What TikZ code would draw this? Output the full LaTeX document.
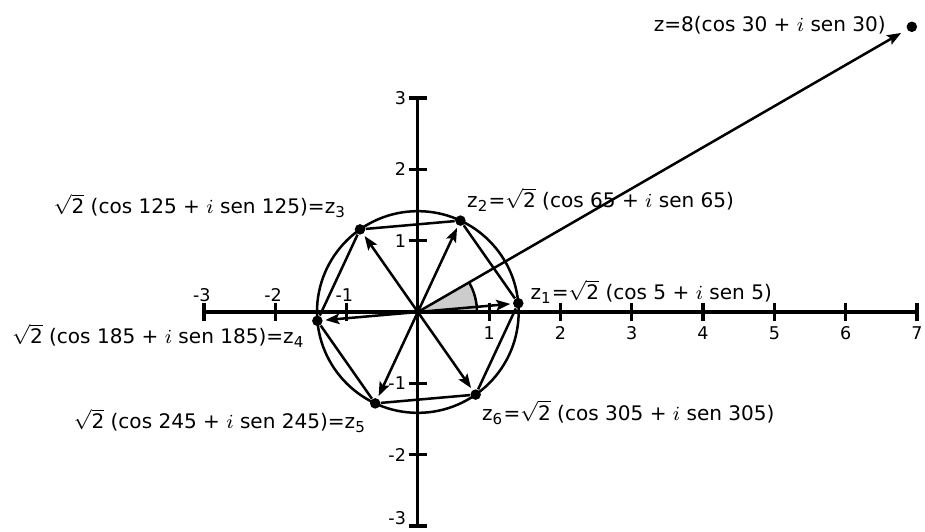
\documentclass[tikz,border=0pt]{standalone}
\usepackage{fontspec}
\setmainfont{DejaVu Sans}
\usetikzlibrary{arrows.meta}
\begin{document}
\begin{tikzpicture}[
  axisline/.style={line width=1.3pt},
  ln/.style={line width=1pt},
  vec/.style={line width=1pt,-{Stealth[length=5.6pt,width=4.2pt,inset=1.1pt]}},
  dot/.style={circle,fill=black,inner sep=0pt,minimum size=4.2pt},
  lab/.style={anchor=base west,inner sep=0pt,font=\fontsize{8}{9.6}\selectfont},
  tlab/.style={inner sep=0pt,font=\fontsize{7}{8.4}\selectfont},
]
\useasboundingbox (-5.86,-3.072) rectangle (7.113,4.376);
\coordinate (O) at (0,0);
% angle wedge
\fill[gray!40] (O) -- (0.83,0) arc[start angle=0,end angle=30,radius=0.83] -- cycle;
\draw[ln] (0.83,0) arc[start angle=0,end angle=30,radius=0.83];
% circle
\draw[ln] (O) circle[radius={sqrt(2)}];
% points
\node[dot] (z1) at (5:{sqrt(2)}) {};
\node[dot] (z2) at (65:{sqrt(2)}) {};
\node[dot] (z3) at (125:{sqrt(2)}) {};
\node[dot] (z4) at (185:{sqrt(2)}) {};
\node[dot] (z5) at (245:{sqrt(2)}) {};
\node[dot] (z6) at (305:{sqrt(2)}) {};
\node[dot] (zz) at (30:8) {};
% hexagon
\draw[ln] (z1) -- (z2) -- (z3) -- (z4) -- (z5) -- (z6) -- (z1);
% axes
\draw[axisline] (-3,0) -- (7,0);
\draw[axisline] (0,-3) -- (0,3);
\foreach \x in {-3,-2,-1,1,2,3,4,5,6,7} \draw[axisline] (\x,-0.12) -- (\x,0.12);
\foreach \y in {-3,-2,-1,1,2,3} \draw[axisline] (-0.13,\y) -- (0.13,\y);
\foreach \x in {-3,-2,-1} \node[tlab] at (\x-0.03,0.24) {\x};
\foreach \x in {1,...,7} \node[tlab] at (\x,-0.30) {\x};
\foreach \y in {-2,-1,1,2,3} \node[tlab,anchor=east] at (-0.16,\y) {\y};
\node[tlab,anchor=east] at (-0.16,-2.89) {-3};
% vectors
\foreach \k in {1,...,6} \draw[vec,shorten >=0.9pt] (O) -- (z\k);
\draw[vec,shorten >=2.6pt] (O) -- (zz);
% labels
\node[lab] (lz) at (3.303,3.931) {z=8(cos 30 + $i$ sen 30)};
\node[lab] (l1) at (1.574,0.178) {z\textsubscript{1}=$\sqrt{\mbox{2}}$ (cos 5 + $i$ sen 5)};
\node[lab] (l2) at (0.686,1.468) {z\textsubscript{2}=$\sqrt{\mbox{2}}$ (cos 65 + $i$ sen 65)};
\node[lab] (l3) at (-5.112,1.384) {$\sqrt{\mbox{2}}$ (cos 125 + $i$ sen 125)=z\textsubscript{3}};
\node[lab] (l4) at (-5.695,-0.439) {$\sqrt{\mbox{2}}$ (cos 185 + $i$ sen 185)=z\textsubscript{4}};
\node[lab] (l5) at (-4.832,-1.631) {$\sqrt{\mbox{2}}$ (cos 245 + $i$ sen 245)=z\textsubscript{5}};
\node[lab] (l6) at (0.896,-1.515) {z\textsubscript{6}=$\sqrt{\mbox{2}}$ (cos 305 + $i$ sen 305)};
\end{tikzpicture}
\end{document}
